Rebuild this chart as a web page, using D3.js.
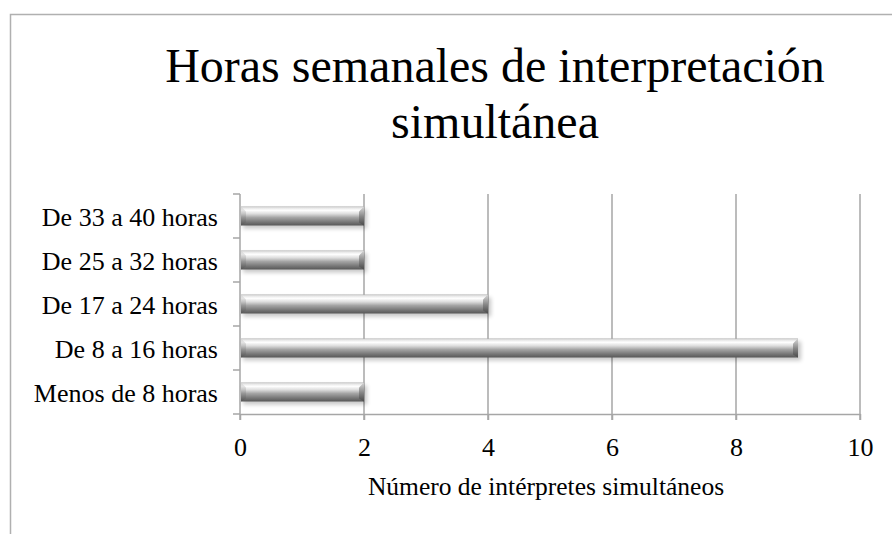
<!DOCTYPE html>
<html>
<head>
<meta charset="utf-8">
<script src="https://cdn.jsdelivr.net/npm/d3@7/dist/d3.min.js"></script>
<style>
  body { margin: 0; background: #fff; }
  text { font-family: "Liberation Serif", "Times New Roman", serif; fill: #000; }
</style>
</head>
<body>
<svg id="svgmain" width="892" height="534"></svg>
<script>
var categories = ["Menos de 8 horas", "De 8 a 16 horas", "De 17 a 24 horas", "De 25 a 32 horas", "De 33 a 40 horas"]
var values = [2, 9, 4, 2, 2]
var xTicks = [0, 2, 4, 6, 8, 10]
var titleLines = ["Horas semanales de interpretación", "simultánea"]
var xTitle = "Número de intérpretes simultáneos"

var svg = d3.select("#svgmain")
// plot box (note: "top" is taken by window.top, so use plotTop etc.)
var plotLeft = 240, plotRight = 860, plotTop = 194, plotBottom = 414
var axisColor = "#a6a6a6"

// chart frame (runs off the right and bottom edges)
svg.append("path")
    .attr("d", "M10.5,540 V14.5 H892")
    .attr("fill", "none")
    .attr("stroke", "#b0b0b0")
    .attr("stroke-width", 1.5)

var x = d3.scaleLinear().domain([0, 10]).range([plotLeft, plotRight])
var y = d3.scaleBand().domain(categories.slice().reverse()).range([plotTop, plotBottom])

var defs = svg.append("defs")
var grad = defs.append("linearGradient").attr("id", "barGrad")
    .attr("x1", 0).attr("y1", 0).attr("x2", 0).attr("y2", 1)
var stops = [[0, "#b0b0b0"], [0.06, "#e2e2e2"], [0.2, "#ffffff"], [0.38, "#dedede"],
             [0.58, "#a4a4a4"], [0.82, "#767676"], [1, "#585858"]]
stops.forEach(function(s) {
    grad.append("stop").attr("offset", s[0]).attr("stop-color", s[1])
})
var endGrad = defs.append("linearGradient").attr("id", "endGrad")
    .attr("x1", 0).attr("y1", 0).attr("x2", 0).attr("y2", 1)
endGrad.append("stop").attr("offset", 0).attr("stop-color", "#d0d0d0")
endGrad.append("stop").attr("offset", 0.5).attr("stop-color", "#858585")
endGrad.append("stop").attr("offset", 1).attr("stop-color", "#484848")
defs.append("filter").attr("id", "shadow")
    .attr("x", "-5%").attr("y", "-50%").attr("width", "110%").attr("height", "200%")
    .append("feGaussianBlur").attr("stdDeviation", 2)

// gridlines (continue down as the bottom ticks)
svg.append("g").selectAll("line").data(xTicks.slice(1)).join("line")
    .attr("x1", function(d) { return x(d) }).attr("x2", function(d) { return x(d) })
    .attr("y1", plotTop).attr("y2", plotBottom + 6)
    .attr("stroke", axisColor).attr("stroke-width", 1.5)

// bottom axis
var xAxis = svg.append("g").attr("transform", "translate(0," + plotBottom + ")")
    .call(d3.axisBottom(x).tickValues(xTicks).tickSize(6).tickPadding(18).tickSizeOuter(0))
xAxis.select(".domain").attr("stroke", axisColor).attr("stroke-width", 1.5)
xAxis.selectAll(".tick line").attr("stroke", axisColor).attr("stroke-width", 1.5)
xAxis.selectAll(".tick text").attr("font-size", 26).attr("font-family", "Liberation Serif")
    .attr("fill", "#000")

// left axis with ticks at band edges
var bandEdges = d3.range(categories.length + 1).map(function(i) { return plotTop + i * y.step() })
svg.append("line").attr("x1", plotLeft).attr("x2", plotLeft).attr("y1", plotTop).attr("y2", plotBottom + 6)
    .attr("stroke", axisColor).attr("stroke-width", 1.5)
svg.append("g").selectAll("line").data(bandEdges).join("line")
    .attr("x1", plotLeft - 7).attr("x2", plotLeft)
    .attr("y1", function(d) { return d }).attr("y2", function(d) { return d })
    .attr("stroke", axisColor).attr("stroke-width", 1.5)
svg.append("g").selectAll("text").data(categories).join("text")
    .attr("x", 218)
    .attr("y", function(d) { return y(d) + y.bandwidth() / 2 })
    .attr("dy", "0.37em")
    .attr("text-anchor", "end")
    .attr("font-size", 26)
    .text(function(d) { return d })

// bars
var barH = 19
var bars = svg.append("g").selectAll("g").data(categories).join("g")
    .attr("transform", function(d) {
        return "translate(0," + (y(d) + y.bandwidth() / 2 - barH / 2) + ")"
    })
bars.append("rect")
    .attr("x", plotLeft + 3).attr("y", 3)
    .attr("width", function(d, i) { return x(values[i]) - plotLeft })
    .attr("height", barH)
    .attr("fill", "#000").attr("opacity", 0.22)
    .attr("filter", "url(#shadow)")
bars.append("rect")
    .attr("x", plotLeft + 1).attr("y", 0)
    .attr("width", function(d, i) { return x(values[i]) - plotLeft - 1 })
    .attr("height", barH)
    .attr("fill", "url(#barGrad)")
// bevelled right end
bars.append("path")
    .attr("d", function(d, i) {
        var xe = x(values[i])
        return "M" + (xe - 5) + ",5 L" + xe + ",0 L" + xe + "," + barH + " L" + (xe - 5) + "," + (barH - 3) + " Z"
    })
    .attr("fill", "url(#endGrad)").attr("opacity", 0.9)
// bevelled left end
bars.append("path")
    .attr("d", "M" + (plotLeft + 1) + ",0 L" + (plotLeft + 6) + ",5 L" + (plotLeft + 6) + "," + (barH - 3) + " L" + (plotLeft + 1) + "," + barH + " Z")
    .attr("fill", "url(#endGrad)").attr("opacity", 0.35)

// title
svg.append("g").selectAll("text").data(titleLines).join("text")
    .attr("x", 495)
    .attr("y", function(d, i) { return 82 + i * 56 })
    .attr("text-anchor", "middle")
    .attr("font-size", 48)
    .text(function(d) { return d })

// axis title
svg.append("text")
    .attr("x", 546).attr("y", 495)
    .attr("text-anchor", "middle")
    .attr("font-size", 25.5)
    .text(xTitle)
</script>
</body>
</html>
